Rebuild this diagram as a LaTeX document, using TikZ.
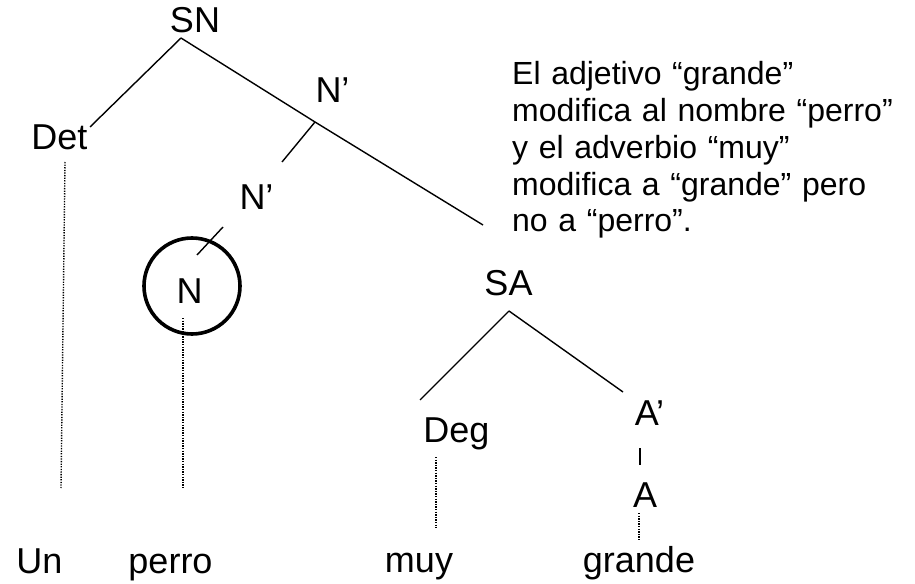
\documentclass[tikz,border=0pt]{standalone}
\usepackage{fontspec}
\setmainfont{Liberation Sans}
\begin{document}
\begin{tikzpicture}[x=1bp,y=-1bp,
  lbl/.style={inner sep=0pt,anchor=base,font=\fontsize{36bp}{43bp}\selectfont},
  branch/.style={line width=1.4bp},
  dots/.style={line width=1.4bp,dash pattern=on 1.3bp off 1.3bp},
  ring/.style={circle,draw,line width=3.6bp,minimum size=96bp,inner sep=0pt}]
\useasboundingbox (0,0) rectangle (915,584);
% labels
\node[lbl] (SN) at (195,33) {SN};
\node[lbl] (Det) at (59.5,150) {Det};
\node[lbl] (Nb1) at (332.5,103) {N’};
\node[lbl] (Nb2) at (256.5,210) {N’};
\node[ring] (ring) at (192,286) {};
\node[lbl] (N) at (189.5,303) {N};
\node[lbl] (SA) at (508.5,295) {SA};
\node[lbl] (Deg) at (456.5,442) {Deg};
\node[lbl] (Ab) at (649.5,425) {A’};
\node[lbl] (A) at (645,507) {A};
\node[lbl] (Un) at (39.5,573) {Un};
\node[lbl] (perro) at (170.5,573) {perro};
\node[lbl] (muy) at (419,572) {muy};
\node[lbl] (grande) at (639,572) {grande};
\node[inner sep=0pt,anchor=base west,text width=400bp,align=left,
  font=\fontsize{32bp}{36.7bp}\selectfont] (note) at (512,85)
  {El adjetivo “grande”\\modifica al nombre “perro”\\y el adverbio “muy”\\modifica a “grande” pero\\no a “perro”.};
% connector end points
\coordinate (SNf) at (181,38);
\coordinate (Dett) at (90,127);
\coordinate (Nb1f) at (315,122);
\coordinate (SAt) at (483,225);
\coordinate (Nb2t) at (282,162);
\coordinate (Nb2f) at (223,227);
\coordinate (Nt) at (197,255);
\coordinate (SAf) at (509,311);
\coordinate (Degt) at (420,400);
\coordinate (Abt) at (623,392);
\coordinate (Abf) at (640,448);
\coordinate (At) at (640,465);
\coordinate (Detf) at (65,162);
\coordinate (Unt) at (61,488);
\coordinate (Nf) at (183,318);
\coordinate (perrot) at (183,488);
\coordinate (Degf) at (436,457);
\coordinate (muyt) at (436,528);
\coordinate (Af) at (639,513);
\coordinate (grandet) at (639,540);
% branches
\draw[branch] (SNf) -- (Dett);
\draw[branch] (SNf) -- (Nb1f);
\draw[branch] (Nb1f) -- (SAt);
\draw[branch] (Nb1f) -- (Nb2t);
\draw[branch] (Nb2f) -- (Nt);
\draw[branch] (SAf) -- (Degt);
\draw[branch] (SAf) -- (Abt);
\draw[branch] (Abf) -- (At);
% dotted links to words
\draw[dots] (Detf) -- (Unt);
\draw[dots] (Nf) -- (perrot);
\draw[dots] (Degf) -- (muyt);
\draw[dots] (Af) -- (grandet);
\end{tikzpicture}
\end{document}
